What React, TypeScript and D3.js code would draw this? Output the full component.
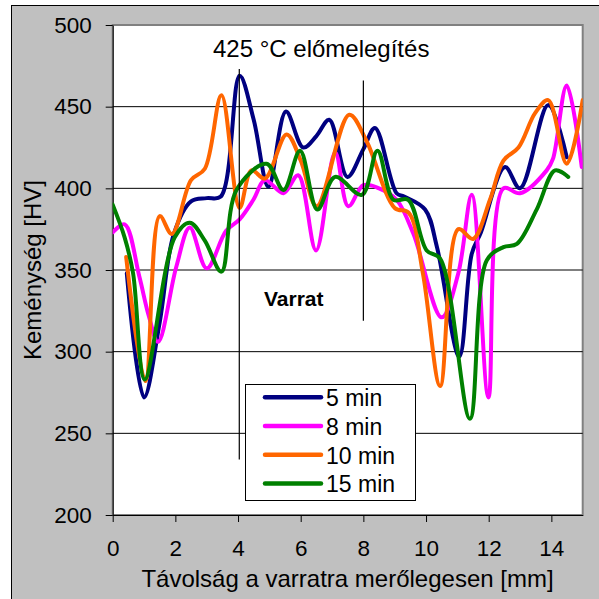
import React, { useEffect, useRef } from "react";
import * as d3 from "d3";

// series: hardness vs. distance perpendicular to weld, 425 °C preheat
const seriesNames = ["5 min", "8 min", "10 min", "15 min"];
const seriesColors = ["#000080", "#FF00FF", "#FF6600", "#008000"];

const x5 = [0.45, 1.0, 1.5, 1.95, 2.5, 3.0, 3.45, 4.05, 4.5, 4.97, 5.53, 6.08, 6.5, 6.91, 7.49, 8.0, 8.37, 9.06, 9.3, 9.97, 10.35, 11.06, 11.46, 11.75, 12.52, 13.0, 13.9, 14.49];
const y5 = [348, 272, 318, 372, 392, 394, 395, 469, 442, 401, 447, 425, 432, 442, 407, 424, 437, 397, 395, 387, 364, 297, 360, 373, 413, 400, 451, 419];

const x8 = [0, 0.38, 0.85, 1.15, 1.45, 2.03, 2.46, 3.0, 3.62, 4.05, 4.49, 4.86, 5.45, 5.92, 6.49, 7.1, 7.52, 8.0, 8.5, 9.06, 9.6, 10.5, 11.03, 11.46, 11.99, 12.47, 13.0, 13.85, 14.05, 14.49, 14.97];
const y8 = [373, 378, 346, 322, 306, 352, 376, 351, 374, 381, 393, 405, 397, 408, 362, 422, 389, 402, 400, 393, 372, 321, 348, 396, 272, 400, 397, 411, 418, 463, 413];

const x10 = [0.43, 1.04, 1.5, 1.89, 2.5, 2.94, 3.47, 4.05, 4.43, 4.86, 5.55, 6.0, 6.51, 7.55, 8.1, 9.0, 9.45, 9.9, 10.45, 11.03, 11.5, 12.04, 12.47, 12.95, 13.48, 13.9, 14.49, 15.0];
const y10 = [358, 282, 383, 372, 405, 412, 457, 388, 411, 406, 433, 417, 389, 445, 429, 388, 385, 348, 279, 375, 369, 393, 417, 425, 446, 454, 415, 454];

const x15 = [0, 0.38, 0.65, 1.02, 1.98, 2.46, 2.94, 3.47, 3.95, 4.91, 5.45, 5.98, 6.53, 7.1, 7.95, 8.45, 8.96, 9.43, 10.02, 10.45, 11.4, 11.94, 12.47, 12.9, 13.53, 14.12, 14.54];
const y15 = [390, 370, 348, 283, 370, 379, 368, 349, 399, 415, 399, 423, 387, 407, 396, 423, 393, 393, 362, 357, 259, 356, 364, 366, 387, 411, 407];

const seriesX = [x5, x8, x10, x15];
const seriesY = [y5, y8, y10, y15];

const xTicks = [0, 2, 4, 6, 8, 10, 12, 14];
const yTicks = [200, 250, 300, 350, 400, 450, 500];
const gridValues = [250, 300, 350, 400, 450];

// vertical marker lines (weld zone boundaries)
const markerX = [4.04, 8.0];
const markerTop = [473, 466];
const markerBottom = [234, 319];

const FONT = "'Liberation Sans', Arial, sans-serif";

const Chart: React.FC = () => {
  const svgRef = useRef<SVGSVGElement | null>(null);

  useEffect(() => {
    if (!svgRef.current) return;
    const svg = d3.select(svgRef.current);
    svg.selectAll("*").remove();

    const left = 112.7;
    const right = 582.7;
    const top = 25;
    const bottom = 515;

    const x = d3.scaleLinear().domain([0, 15]).range([left, right]);
    const y = d3.scaleLinear().domain([200, 500]).range([bottom, top]);

    // chart area background
    svg
      .append("rect")
      .attr("x", 11.5)
      .attr("y", 5.5)
      .attr("width", 620)
      .attr("height", 620)
      .attr("fill", "#C0C0C0")
      .attr("stroke", "#000")
      .attr("stroke-width", 1);

    // plot area
    svg
      .append("rect")
      .attr("x", left)
      .attr("y", top)
      .attr("width", right - left)
      .attr("height", bottom - top)
      .attr("fill", "#fff")
      .attr("stroke", "#808080")
      .attr("stroke-width", 2);

    svg
      .append("g")
      .selectAll("line")
      .data(gridValues)
      .enter()
      .append("line")
      .attr("x1", left)
      .attr("x2", right)
      .attr("y1", (d) => y(d))
      .attr("y2", (d) => y(d))
      .attr("stroke", "#000")
      .attr("stroke-width", 1);

    const yAxis = d3.axisLeft(y).tickValues(yTicks).tickSize(7).tickSizeOuter(0).tickPadding(14);
    const xAxis = d3.axisBottom(x).tickValues(xTicks).tickSize(7).tickSizeOuter(0).tickPadding(18);

    const gy = svg.append("g").attr("transform", `translate(${left},0)`).call(yAxis);
    const gx = svg.append("g").attr("transform", `translate(0,${bottom})`).call(xAxis);
    [gy, gx].forEach((g) => {
      g.attr("font-family", FONT).attr("font-size", 22.5);
      g.selectAll("text").attr("fill", "#000");
      g.selectAll("line").attr("stroke", "#000");
      g.select(".domain").attr("stroke", "#000");
    });

    svg
      .append("defs")
      .append("clipPath")
      .attr("id", "plotClip")
      .append("rect")
      .attr("x", left)
      .attr("y", top)
      .attr("width", right - left)
      .attr("height", bottom - top);

    const line = d3
      .line<[number, number]>()
      .x((d) => x(d[0]))
      .y((d) => y(d[1]))
      .curve(d3.curveCatmullRom.alpha(0.5));

    seriesNames.forEach((name, i) => {
      const pts: [number, number][] = seriesX[i].map((v, j) => [v, seriesY[i][j]]);
      svg
        .append("path")
        .datum(pts)
        .attr("clip-path", "url(#plotClip)")
        .attr("fill", "none")
        .attr("stroke", seriesColors[i])
        .attr("stroke-width", 4)
        .attr("stroke-linejoin", "round")
        .attr("stroke-linecap", "round")
        .attr("d", line);
    });

    // marker lines
    markerX.forEach((m, i) => {
      svg
        .append("line")
        .attr("x1", x(m))
        .attr("x2", x(m))
        .attr("y1", y(markerTop[i]))
        .attr("y2", y(markerBottom[i]))
        .attr("stroke", "#000")
        .attr("stroke-width", 1.2);
    });

    svg
      .append("text")
      .attr("x", 213)
      .attr("y", 57)
      .attr("font-family", FONT)
      .attr("font-size", 24)
      .text("425 °C előmelegítés");

    svg
      .append("text")
      .attr("x", 264)
      .attr("y", 306)
      .attr("font-family", FONT)
      .attr("font-size", 21)
      .attr("font-weight", "bold")
      .text("Varrat");

    // axis titles
    svg
      .append("text")
      .attr("x", 347.5)
      .attr("y", 587)
      .attr("text-anchor", "middle")
      .attr("font-family", FONT)
      .attr("font-size", 24)
      .text("Távolság a varratra merőlegesen [mm]");

    svg
      .append("text")
      .attr("transform", `translate(41,${(top + bottom) / 2}) rotate(-90)`)
      .attr("text-anchor", "middle")
      .attr("font-family", FONT)
      .attr("font-size", 24)
      .text("Keménység [HV]");

    // legend
    const legend = svg.append("g");
    legend
      .append("rect")
      .attr("x", 245.5)
      .attr("y", 384.5)
      .attr("width", 170)
      .attr("height", 116)
      .attr("fill", "#fff")
      .attr("stroke", "#000")
      .attr("stroke-width", 1);

    seriesNames.forEach((name, i) => {
      const ly = 397.3 + i * 28.7;
      legend
        .append("line")
        .attr("x1", 265)
        .attr("x2", 321)
        .attr("y1", ly)
        .attr("y2", ly)
        .attr("stroke", seriesColors[i])
        .attr("stroke-width", 4.5)
        .attr("stroke-linecap", "round");
      legend
        .append("text")
        .attr("x", 326)
        .attr("y", ly + 9)
        .attr("font-family", FONT)
        .attr("font-size", 23)
        .text(name);
    });
  }, []);

  return (
    <svg
      ref={svgRef}
      width={599}
      height={599}
      style={{ position: "absolute", left: 0, top: 0 }}
    ></svg>
  );
};

export default function App() {
  return <Chart />;
}
